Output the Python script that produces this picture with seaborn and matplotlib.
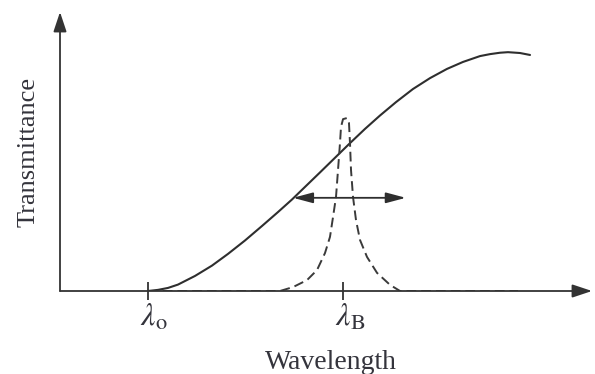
import matplotlib
matplotlib.use("Agg")
import matplotlib.pyplot as plt
import matplotlib.transforms as mtransforms
import seaborn as sns
import pandas as pd

# Data (arbitrary units: wavelength 0..10, transmittance 0..1)
edge_wl = [1.654, 1.842, 2.030, 2.218, 2.538, 2.857, 3.158, 3.477, 3.797, 4.098, 4.361,
           4.887, 5.451, 5.733, 6.015, 6.316, 6.635, 6.955, 7.274, 7.575, 7.895, 8.083,
           8.271, 8.421, 8.647, 8.835]
edge_t = [0.0, 0.004, 0.011, 0.023, 0.054, 0.091, 0.133, 0.181, 0.233, 0.283, 0.328,
          0.425, 0.530, 0.581, 0.629, 0.677, 0.724, 0.763, 0.796, 0.821, 0.842, 0.849,
          0.854, 0.856, 0.853, 0.846]

peak_wl = [1.654, 4.135, 4.380, 4.643, 4.831, 4.981, 5.075, 5.132, 5.188, 5.226, 5.263,
           5.282, 5.320, 5.395, 5.432, 5.451, 5.470, 5.508, 5.564, 5.639, 5.771, 5.959,
           6.203, 6.391, 8.609]
peak_t = [0.0, 0.0, 0.014, 0.039, 0.075, 0.136, 0.194, 0.265, 0.337, 0.434, 0.530,
          0.588, 0.616, 0.620, 0.602, 0.530, 0.434, 0.337, 0.254, 0.183, 0.122, 0.065,
          0.022, 0.0, 0.0]

tick_pos = [1.654, 5.32]
tick_labels = [r"$\lambda_{\rm o}$", r"$\lambda_{\rm B}$"]
arrow_span = [4.38, 6.50]
arrow_level = 0.334

sns.set_style("white")
plt.rcParams["font.family"] = ["Liberation Serif", "DejaVu Serif"]
plt.rcParams["mathtext.fontset"] = "stix"
plt.rcParams["lines.scale_dashes"] = False

ink = "#2e2e2e"
txt = "#34343c"

fig = plt.figure(figsize=(5.95, 3.74), dpi=100)
ax = fig.add_axes([60 / 595, 83 / 374, 532 / 595, 279 / 374])

edge = pd.DataFrame({"wl": edge_wl, "t": edge_t})
peak = pd.DataFrame({"wl": peak_wl, "t": peak_t})

sns.lineplot(data=edge, x="wl", y="t", ax=ax, color=ink, lw=1.5, sort=False)
sns.lineplot(data=peak, x="wl", y="t", ax=ax, color="#3a3a3a", lw=1.4, sort=False,
             linestyle=(0, (7, 3.6)))

ax.set_xlim(0, 10)
ax.set_ylim(0, 1)

for s in ax.spines.values():
    s.set_visible(False)

# axis arrows
for tip in [(1, 0), (0, 1)]:
    ax.annotate("", xy=tip, xytext=(0, 0), xycoords="axes fraction",
                arrowprops=dict(arrowstyle="-|>,head_length=0.6,head_width=0.2",
                                color="#333333", lw=1.3, mutation_scale=20,
                                shrinkA=0, shrinkB=0),
                annotation_clip=False)

# double arrow
ax.annotate("", xy=(arrow_span[1], arrow_level), xytext=(arrow_span[0], arrow_level),
            arrowprops=dict(arrowstyle="<|-|>,head_length=0.6,head_width=0.16",
                            color=ink, lw=1.3, mutation_scale=20, shrinkA=0, shrinkB=0))

ax.set_xticks(tick_pos)
ax.set_xticklabels(tick_labels, fontsize=23, color=txt)
ax.tick_params(axis="x", direction="inout", length=13, width=1.3, color="#333333", pad=2,
               bottom=True)
ax.set_yticks([])
offset = mtransforms.ScaledTranslation(-8 / 100, 0, fig.dpi_scale_trans)
for lab in ax.get_xticklabels():
    lab.set_horizontalalignment("left")
    lab.set_transform(lab.get_transform() + offset)

ax.set_xlabel("Wavelength", fontsize=20, color=txt)
ax.xaxis.set_label_coords(0.5 + 5 / 532, -0.212)
ax.set_ylabel("Transmittance", fontsize=19, color=txt)
ax.yaxis.set_label_coords(-20 / 532, 0.5)

fig.savefig("out.png", dpi=100, facecolor="white")
